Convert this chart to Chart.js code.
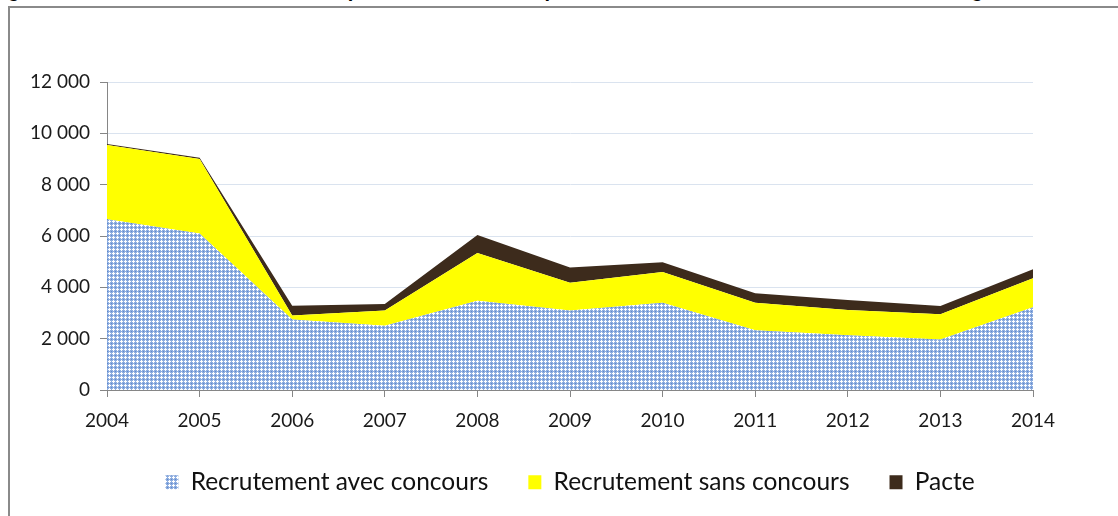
<!DOCTYPE html>
<html>
<head>
<meta charset="utf-8">
<script src="https://cdn.jsdelivr.net/npm/chart.js@4"></script>
<style>
  body { margin: 0; background: #fff; overflow: hidden; }
  #wrap { position: relative; width: 1118px; height: 516px; overflow: hidden; }
  #titre { position: absolute; top: -21px; left: 0; font: bold 20px Arial, "Liberation Sans", sans-serif; color: #000; white-space: nowrap; }
  #cadre { position: absolute; left: 8px; top: 6px; width: 1200px; height: 600px; border-left: 2px solid #8a8a8a; border-top: 2px solid #8a8a8a; }
  #graph { position: absolute; left: 0; top: 0; }
</style>
</head>
<body>
<div id="wrap">
  <div id="titre"><span style="position:absolute;left:-10px">Figure</span><span style="position:absolute;left:210px">Évolution comparée du nombre de postes offerts avec et sans concours de catégorie A</span></div>
  <div id="cadre"></div>
  <canvas id="graph" width="1118" height="516"></canvas>
</div>
<script>
// années
const annees = ['2004', '2005', '2006', '2007', '2008', '2009', '2010', '2011', '2012', '2013', '2014'];
// postes offerts
const avecConcours = [6650, 6100, 2750, 2500, 3480, 3100, 3400, 2330, 2130, 1970, 3220];
const sansConcours = [2900, 2900, 150, 600, 1860, 1080, 1200, 1070, 990, 980, 1130];
const pacte = [30, 50, 380, 250, 700, 590, 380, 370, 390, 320, 350];
const yTicks = [0, 2000, 4000, 6000, 8000, 10000, 12000];

// motif bleu quadrillé pour la première série
function motifBleu() {
    const c = document.createElement('canvas');
    c.width = 4; c.height = 4;
    const g = c.getContext('2d');
    g.fillStyle = '#8dade0';
    g.fillRect(0, 0, 4, 4);
    g.fillStyle = '#ffffff';
    g.fillRect(1, 0, 1, 3);
    g.fillRect(0, 1, 3, 1);
    g.fillStyle = '#5f87c9';
    g.fillRect(3, 3, 1, 1);
    return g.createPattern(c, 'repeat');
}

const ctx = document.getElementById('graph').getContext('2d');
const police = 'Lato, "Open Sans", sans-serif';

new Chart(ctx, {
    type: 'line',
    data: {
        labels: annees,
        datasets: [{
            label: 'Recrutement avec concours',
            data: avecConcours,
            backgroundColor: motifBleu(),
            borderWidth: 0,
            fill: 'origin'
        }, {
            label: 'Recrutement sans concours',
            data: sansConcours,
            backgroundColor: '#ffff00',
            borderWidth: 0,
            fill: '-1'
        }, {
            label: 'Pacte',
            data: pacte,
            backgroundColor: '#3d2b1c',
            borderWidth: 0,
            fill: '-1'
        }]
    },
    options: {
        responsive: false,
        animation: false,
        elements: { point: { radius: 0 }, line: { tension: 0 } },
        layout: { padding: { left: 0, right: 85, top: 82, bottom: 11.5 } },
        scales: {
            x: {
                offset: false,
                grid: { drawOnChartArea: false, tickLength: 7, tickColor: '#868686' },
                border: { color: '#868686' },
                ticks: { color: '#1a1a1a', font: { family: police, size: 19 }, padding: 12, maxRotation: 0 },
                afterFit: s => { s.height = 40; }
            },
            y: {
                stacked: true,
                min: 0,
                max: 12000,
                afterBuildTicks: s => { s.ticks = yTicks.map(v => ({ value: v })); },
                grid: { color: '#dae3ef', tickLength: 7, tickColor: '#868686' },
                border: { color: '#868686' },
                ticks: {
                    color: '#1a1a1a',
                    font: { family: police, size: 19 },
                    padding: 10,
                    callback: v => v.toLocaleString('fr-FR').replace(/\s/g, ' ')
                },
                afterFit: s => { s.width = 107; }
            }
        },
        plugins: {
            legend: {
                position: 'bottom',
                fullSize: false,
                labels: {
                    boxWidth: 13,
                    boxHeight: 14,
                    padding: 40,
                    color: '#111',
                    font: { family: police, size: 24.5 }
                }
            },
            tooltip: { enabled: false }
        }
    }
});
</script>
</body>
</html>
